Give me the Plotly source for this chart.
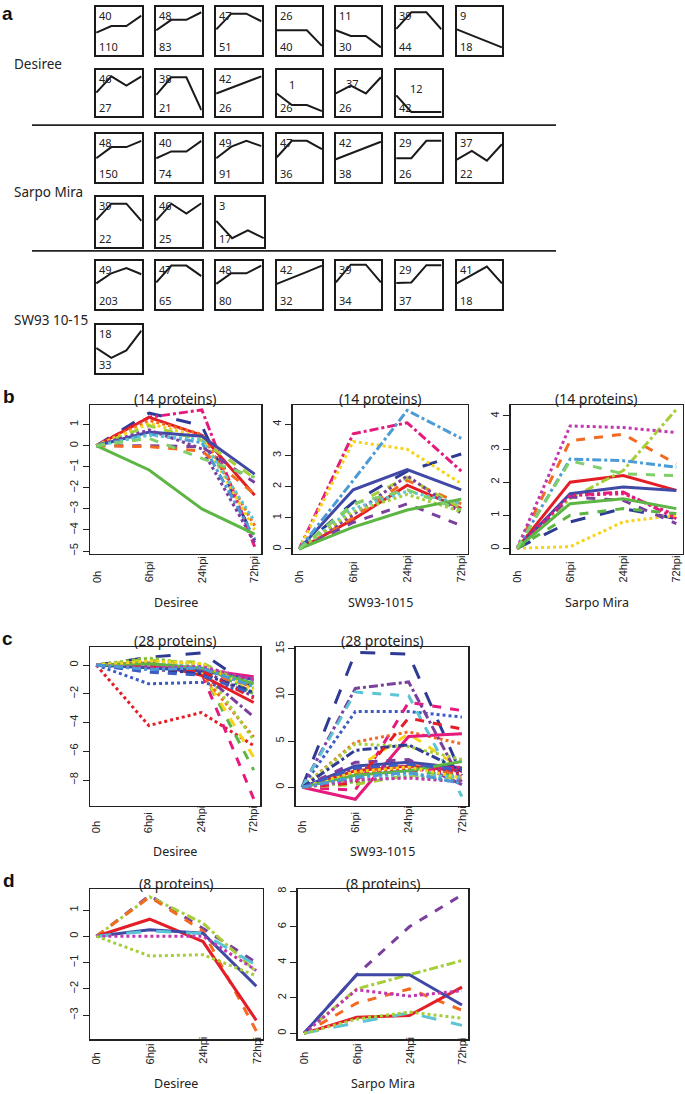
import plotly.graph_objects as go

W, H = 685, 1094

# ---------------- Panel a data (normalised profile heights, 4 time points) ----------------
desiree_profiles = [
    [0.47, 0.61, 0.61, 0.83], [0.52, 0.74, 0.74, 0.90], [0.54, 0.87, 0.87, 0.71],
    [0.52, 0.52, 0.52, 0.19], [0.52, 0.40, 0.40, 0.16], [0.55, 0.90, 0.90, 0.54],
    [0.54, 0.41, 0.29, 0.16],
    [0.51, 0.86, 0.66, 0.86], [0.46, 0.84, 0.84, 0.13], [0.49, 0.61, 0.74, 0.86],
    [0.49, 0.24, 0.24, 0.11], [0.49, 0.66, 0.49, 0.84], [0.45, 0.09, 0.09, 0.09],
]
desiree_top = [40, 48, 47, 26, 11, 39, 9, 46, 38, 42, 1, 37, 12]
desiree_bottom = [110, 83, 51, 40, 30, 44, 18, 27, 21, 26, 26, 26, 42]

sarpo_profiles = [
    [0.50, 0.73, 0.73, 0.86], [0.50, 0.64, 0.64, 0.86], [0.50, 0.74, 0.86, 0.75],
    [0.52, 0.86, 0.86, 0.69], [0.48, 0.60, 0.72, 0.84], [0.50, 0.50, 0.86, 0.86],
    [0.47, 0.65, 0.45, 0.79],
    [0.54, 0.87, 0.87, 0.52], [0.53, 0.87, 0.67, 0.88], [0.52, 0.17, 0.33, 0.17],
]
sarpo_top = [48, 40, 49, 47, 42, 29, 37, 39, 46, 3]
sarpo_bottom = [150, 74, 91, 36, 38, 26, 22, 22, 25, 17]

sw_profiles = [
    [0.53, 0.74, 0.85, 0.72], [0.55, 0.90, 0.90, 0.68], [0.52, 0.74, 0.74, 0.90],
    [0.52, 0.64, 0.77, 0.90], [0.55, 0.92, 0.92, 0.55], [0.54, 0.55, 0.91, 0.91],
    [0.53, 0.71, 0.88, 0.53],
    [0.52, 0.31, 0.47, 0.89],
]
sw_top = [49, 47, 48, 42, 39, 29, 41, 18]
sw_bottom = [203, 65, 80, 32, 34, 37, 18, 33]

genotype_labels = ["Desiree", "Sarpo Mira", "SW93 10-15"]

# ---------------- Panels b-d data ----------------
timepoints = ["0h", "6hpi", "24hpi", "72hpi"]

b_desiree = [
    [0, 1.55, 0.95, -4.5], [0, 1.35, 1.7, -4.8], [0, 1.35, 0.5, -2.35], [0, 1.2, 0.55, -3.8],
    [0, 1.05, 0.4, -4.0], [0, 0.95, 0.25, -1.55], [0, 0.65, 0.45, -1.35], [0, 0.55, 0.15, -4.4],
    [0, 0.75, -0.15, -4.6], [0, 0.5, 0.3, -3.6], [0, 0.0, -0.05, -1.75], [0, -0.05, -0.25, -2.3],
    [0, -1.15, -3.0, -4.2], [0, 0.35, -0.6, -1.5],
]
b_sw = [
    [0, 1.5, 2.5, 3.05], [0, 3.7, 4.05, 2.5], [0, 0.95, 2.05, 1.3], [0, 1.0, 2.2, 1.45],
    [0, 3.45, 3.2, 2.1], [0, 1.4, 2.3, 1.3], [0, 1.9, 2.55, 1.9], [0, 2.2, 4.45, 3.55],
    [0, 1.1, 2.35, 1.15], [0, 1.3, 1.85, 1.45], [0, 0.85, 1.45, 0.75], [0, 1.2, 1.75, 1.2],
    [0, 0.7, 1.25, 1.6], [0, 1.45, 1.9, 1.25],
]
b_sarpo = [
    [0, 0.8, 1.2, 0.9], [0, 1.6, 1.7, 0.9], [0, 2.0, 2.2, 1.75], [0, 3.25, 3.45, 2.55],
    [0, 0.05, 0.8, 1.0], [0, 1.5, 2.35, 4.2], [0, 1.65, 1.85, 1.75], [0, 2.7, 2.65, 2.45],
    [0, 3.7, 3.65, 3.5], [0, 1.55, 1.45, 0.75], [0, 1.6, 1.65, 1.0], [0, 1.0, 1.2, 1.05],
    [0, 1.35, 1.5, 1.2], [0, 2.65, 2.25, 2.2],
]
c_desiree = [
    [0, -4.2, -3.3, -5.6], [0, -1.3, -1.2, -1.9], [0, 0.55, 0.85, -1.6], [0, 0.1, -0.5, -9.3],
    [0, 0.3, -0.3, -7.3], [0, 0.4, -0.4, -6.4], [0, 0.2, -0.6, -5.0], [0, 0.5, 0.0, -5.2],
    [0, -0.3, -0.5, -3.6], [0, 0.15, -0.7, -2.6], [0, 0.1, -0.3, -0.8], [0, -0.4, -0.6, -1.3],
    [0, -0.2, -0.4, -1.0], [0, -0.3, -0.6, -1.8], [0, 0.3, -0.2, -1.4], [0, 0.4, 0.1, -2.0],
    [0, 0.0, -0.5, -1.5], [0, -0.1, -0.3, -2.2], [0, -0.2, -0.6, -1.9], [0, 0.1, -0.2, -1.1],
    [0, 0.3, 0.2, -1.6], [0, 0.2, 0.0, -1.2], [0, -0.1, -0.4, -2.3], [0, 0.1, -0.2, -1.3],
    [0, 0.3, 0.1, -1.7], [0, -0.5, -0.7, -2.0], [0, -0.2, -0.1, -1.0], [0, -0.3, -0.2, -1.5],
]
c_sw = [
    [0, 1.5, 2.0, 1.5], [0, 8.2, 8.2, 7.6], [0, 14.6, 14.4, 1.3], [0, -0.3, 9.2, 8.3],
    [0, 1.0, 1.8, 1.2], [0, 2.0, 5.8, 2.0], [0, 4.9, 6.0, 4.7], [0, 4.7, 4.4, 3.0],
    [0, 10.7, 11.4, 0.5], [0, 1.8, 2.3, 1.8], [0, -1.3, 5.5, 5.8], [0, 10.3, 9.9, -1.0],
    [0, 2.3, 2.7, 2.1], [0, 2.7, 3.0, 0.3], [0, 1.2, 1.5, 0.8], [0, 0.6, 1.2, 0.6],
    [0, 1.5, 2.5, 1.3], [0, 2.0, 2.3, 1.7], [0, 4.0, 4.6, 1.8], [0, 1.2, 1.8, 2.2],
    [0, 0.3, 1.3, 1.0], [0, 1.0, 1.4, 1.1], [0, 0.5, 7.5, 6.3], [0, 1.3, 1.8, 2.8],
    [0, 1.7, 2.2, 1.0], [0, 2.1, 2.5, 1.9], [0, 0.8, 1.0, 0.6], [0, 1.1, 1.6, 0.4],
]
d_desiree = [
    [0, 1.55, 0.3, -1.0], [0, 1.5, 0.5, -1.35], [0, 1.5, 0.2, -3.6], [0, 0.65, -0.2, -3.2],
    [0, 0.25, 0.12, -1.9], [0, 0.2, 0.1, -1.1], [0, 0.0, 0.0, -1.3], [0, -0.75, -0.7, -1.5],
]
d_sarpo = [
    [0, 3.3, 6.0, 7.8], [0, 2.5, 3.3, 4.1], [0, 1.7, 2.5, 1.3], [0, 0.9, 1.0, 2.6],
    [0, 3.3, 3.3, 1.6], [0, 0.6, 1.15, 0.45], [0, 2.45, 2.1, 2.4], [0, 0.8, 1.2, 0.85],
]

# ---------------- styles ----------------
C = dict(red="#E41E26", navy="#2E3A94", indigo="#4049A6", green="#5DB544", magenta="#E6197D",
         orange="#F26B21", yellow="#F7D417", purple="#7B3F9E", sky="#4C9BD6", cyan="#5CC5D5",
         lime="#A6CE39", orchid="#C237B0", blue="#3C5CC4", lgreen="#7FD06A")

b_styles = [("navy", "longdash"), ("magenta", "dashdot"), ("red", "solid"), ("orange", "dot"),
            ("yellow", "dot"), ("lime", "dash"), ("indigo", "solid"), ("sky", "dashdot"),
            ("purple", "dot"), ("cyan", "dot"), ("purple", "dash"), ("orange", "dash"),
            ("green", "solid"), ("lgreen", "dash")]
b_sw_styles = [("navy", "longdash"), ("magenta", "dashdot"), ("red", "solid"), ("orange", "dash"),
               ("yellow", "dot"), ("lime", "dash"), ("indigo", "solid"), ("sky", "dashdot"),
               ("purple", "dot"), ("cyan", "dot"), ("purple", "dash"), ("lime", "dot"),
               ("green", "solid"), ("lgreen", "dash")]
b_sarpo_styles = [("navy", "longdash"), ("magenta", "dashdot"), ("red", "solid"), ("orange", "dash"),
                  ("yellow", "dot"), ("lime", "dashdot"), ("indigo", "solid"), ("sky", "dashdot"),
                  ("orchid", "dot"), ("purple", "dash"), ("magenta", "dot"), ("green", "dash"),
                  ("green", "solid"), ("lgreen", "dash")]
c_styles = [("red", "dot"), ("blue", "dot"), ("navy", "longdash"), ("magenta", "dash"),
            ("green", "dash"), ("yellow", "dash"), ("orange", "dot"), ("lime", "dot"),
            ("purple", "dashdot"), ("red", "solid"), ("magenta", "solid"), ("cyan", "dash"),
            ("indigo", "solid"), ("purple", "dash"), ("sky", "dot"), ("green", "dot"),
            ("orange", "dash"), ("purple", "dot"), ("navy", "dashdot"), ("magenta", "dashdot"),
            ("lime", "dash"), ("cyan", "dot"), ("red", "dash"), ("green", "solid"),
            ("yellow", "dot"), ("blue", "dash"), ("orchid", "dot"), ("sky", "dashdot")]
d_styles = [("purple", "dash"), ("lime", "dashdot"), ("orange", "dash"), ("red", "solid"),
            ("indigo", "solid"), ("cyan", "longdash"), ("orchid", "dot"), ("lime", "dot")]

# ---------------- layout helpers ----------------
def fx(p):
    return p / W

def fy(p):
    return 1 - p / H

fig = go.Figure()
layout = dict(width=W, height=H, margin=dict(l=0, r=0, t=0, b=0), showlegend=False,
              plot_bgcolor="white", paper_bgcolor="white",
              font=dict(family="Noto Sans, Open Sans, sans-serif", color="#222"))
annotations = []
shapes = []
TICKFONT = dict(family="Liberation Sans, Arial", size=11, color="#222")

main_panels = [
    # (series, styles, x0, x1, y0, y1, yrange, ytick, title, xlabel, lab_bottom, xlabel_y)
    (b_desiree, b_styles, 90, 261, 402, 552, [-5.14, 1.93], list(range(-5, 2)), "(14 proteins)", "Desiree", 583, 601),
    (b_sw, b_sw_styles, 292.7, 467.7, 402, 552, [-0.16, 4.62], list(range(0, 5)), "(14 proteins)", "SW93-1015", 583, 601),
    (b_sarpo, b_sarpo_styles, 510.7, 682.7, 402, 552, [-0.17, 4.33], list(range(0, 5)), "(14 proteins)", "Sarpo Mira", 583, 601),
    (c_desiree, c_styles, 90, 260, 646, 805.5, [-9.77, 1.24], [-8, -6, -4, -2, 0], "(28 proteins)", "Desiree", 835, 852),
    (c_sw, c_styles, 295.7, 468.3, 646, 805.5, [-1.98, 15.15], [0, 5, 10, 15], "(28 proteins)", "SW93-1015", 835, 852),
    (d_desiree, d_styles, 90, 262.7, 890, 1041, [-3.92, 1.78], list(range(-3, 2)), "(8 proteins)", "Desiree", 1068, 1085),
    (d_sarpo, d_styles, 297.7, 468.3, 890, 1041, [-0.34, 8.1], [0, 2, 4, 6, 8], "(8 proteins)", "Sarpo Mira", 1068, 1085),
]

n = 0
for series, styles, x0, x1, y0, y1, yr, yt, title, xlabel, lab_bottom, xlab_y in main_panels:
    n += 1
    xa, ya = f"x{n}", f"y{n}"
    layout[f"xaxis{n}"] = dict(domain=[fx(x0), fx(x1)], anchor=ya, range=[-0.12, 3.12],
                               showline=True, mirror=True, linecolor="#222", linewidth=1.5,
                               showgrid=False, zeroline=False, showticklabels=False, ticks="")
    layout[f"yaxis{n}"] = dict(domain=[fy(y1), fy(y0)], anchor=xa, range=yr, tickvals=yt,
                               showline=True, mirror=True, linecolor="#222", linewidth=1.5,
                               showgrid=False, zeroline=False, ticks="outside", ticklen=6,
                               tickcolor="#222", tickangle=-90, tickfont=TICKFONT)
    for vals, (col, dash) in zip(series, styles):
        fig.add_trace(go.Scatter(x=list(range(len(timepoints))), y=vals, xaxis=xa, yaxis=ya,
                                 mode="lines", line=dict(color=C[col], width=3, dash=dash),
                                 hoverinfo="skip"))
    for i, t in enumerate(timepoints):
        annotations.append(dict(text=t, x=i, xref=xa, y=fy(lab_bottom), yref="paper",
                                xanchor="center", yanchor="bottom", textangle=-90,
                                showarrow=False, font=TICKFONT))
    annotations.append(dict(text=title, x=(fx(x0) + fx(x1)) / 2, xref="paper", y=fy(y0 - 6.5),
                            yref="paper", xanchor="center", yanchor="middle", showarrow=False,
                            font=dict(size=14, color="#222")))
    annotations.append(dict(text=xlabel, x=(fx(x0) + fx(x1)) / 2, xref="paper", y=fy(xlab_y),
                            yref="paper", xanchor="center", yanchor="middle", showarrow=False,
                            font=dict(size=12.5, color="#222")))

# ---------------- panel a mini boxes ----------------
col_x0 = [96, 156, 216, 276.5, 335.5, 396, 456.5]
BOX_W = 45.7
rows = {
    0: [(1.5, 49.3), (64.3, 111)],
    1: [(129, 177.7), (192.7, 242.3)],
    2: [(256.7, 305), (321.7, 369.3)],
}
label_y = [58, 187, 316]
groups = [(desiree_profiles, desiree_top, desiree_bottom),
          (sarpo_profiles, sarpo_top, sarpo_bottom),
          (sw_profiles, sw_top, sw_bottom)]
top_offsets = {(0, 10): (9, 6), (0, 11): (7, 5), (0, 12): (11, 10)}
wide_boxes = {(1, 9): 48}

for g, (profiles, tops, bottoms) in enumerate(groups):
    for k, prof in enumerate(profiles):
        n += 1
        r, c = divmod(k, 7)
        bx0 = col_x0[c]
        bw = wide_boxes.get((g, k), BOX_W)
        by0, by1 = rows[g][r]
        xa, ya = f"x{n}", f"y{n}"
        layout[f"xaxis{n}"] = dict(domain=[fx(bx0), fx(bx0 + bw)], anchor=ya, range=[-0.02, 3.02],
                                   showline=True, mirror=True, linecolor="#1a1a1a", linewidth=2,
                                   showgrid=False, zeroline=False, showticklabels=False, ticks="")
        layout[f"yaxis{n}"] = dict(domain=[fy(by1), fy(by0)], anchor=xa, range=[0, 1],
                                   showline=True, mirror=True, linecolor="#1a1a1a", linewidth=2,
                                   showgrid=False, zeroline=False, showticklabels=False, ticks="")
        fig.add_trace(go.Scatter(x=list(range(len(timepoints))), y=prof, xaxis=xa, yaxis=ya,
                                 mode="lines", line=dict(color="#1a1a1a", width=2), hoverinfo="skip"))
        ox, oy = top_offsets.get((g, k), (0, 0))
        annotations.append(dict(text=str(tops[k]), x=fx(bx0 + 1 + ox), y=fy(by0 - 1 + oy),
                                xref="paper", yref="paper", xanchor="left", yanchor="top",
                                showarrow=False, font=dict(size=11, color="#222")))
        annotations.append(dict(text=str(bottoms[k]), x=fx(bx0 + 1), y=fy(by1 + 1),
                                xref="paper", yref="paper", xanchor="left", yanchor="bottom",
                                showarrow=False, font=dict(size=11, color="#222")))
    annotations.append(dict(text=genotype_labels[g], x=fx(12), y=fy(label_y[g]), xref="paper",
                            yref="paper", xanchor="left", yanchor="middle", showarrow=False,
                            font=dict(size=13.5, color="#222")))

for sep_y in [120, 246.7]:
    shapes.append(dict(type="line", xref="paper", yref="paper", x0=fx(32), x1=fx(556),
                       y0=fy(sep_y), y1=fy(sep_y), line=dict(color="#222", width=1.6)))

for letter, (lx, ly) in zip("abcd", [(7, 8), (9, 393), (8, 637), (9, 881)]):
    annotations.append(dict(text=f"<b>{letter}</b>", x=fx(lx), y=fy(ly), xref="paper", yref="paper",
                            xanchor="center", yanchor="middle", showarrow=False,
                            font=dict(family="Liberation Sans, Arial", size=19, color="#111")))

layout["annotations"] = annotations
layout["shapes"] = shapes
fig.update_layout(**layout)
fig.write_html(
    "out.html",
    config={"displayModeBar": False, "staticPlot": True},
    post_script="document.documentElement.style.margin='0';document.body.style.margin='0';"
                "document.body.style.padding='0';document.body.style.overflow='hidden';",
)
